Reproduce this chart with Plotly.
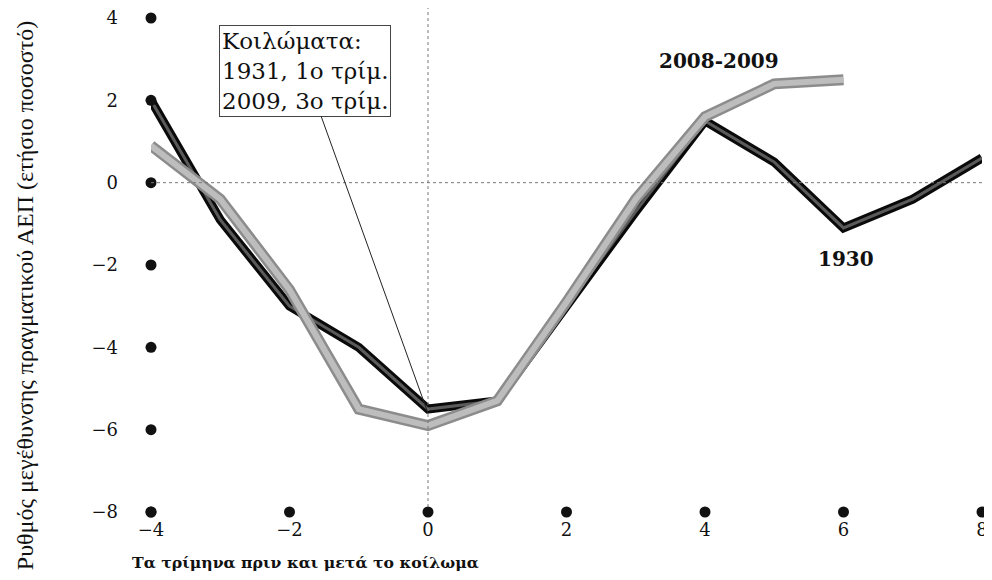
import plotly.graph_objects as go

quarters_1930 = [-4, -3, -2, -1, 0, 1, 2, 3, 4, 5, 6, 7, 8]
gdp_1930 = [2.0, -0.9, -3.0, -4.0, -5.5, -5.3, -3.0, -0.7, 1.5, 0.5, -1.1, -0.4, 0.6]

quarters_2008 = [-4, -3, -2, -1, 0, 1, 2, 3, 4, 5, 6]
gdp_2008 = [0.9, -0.4, -2.6, -5.5, -5.9, -5.3, -2.9, -0.4, 1.6, 2.4, 2.5]

x_ticks = [-4, -2, 0, 2, 4, 6, 8]
y_ticks = [-8, -6, -4, -2, 0, 2, 4]

SERIF = "Liberation Serif"
WIDE = "DejaVu Serif"

fig = go.Figure()

# reference lines
fig.add_shape(type="line", xref="x", yref="paper", x0=0, x1=0, y0=0.01, y1=1.03,
              line=dict(color="#777", width=1, dash="dot"))
fig.add_shape(type="line", xref="paper", yref="y", x0=0, x1=1.02, y0=0, y1=0,
              line=dict(color="#777", width=1, dash="dot"))

# 1930 line: black outline with dark interior
fig.add_trace(go.Scatter(x=quarters_1930, y=gdp_1930, mode="lines",
                         line=dict(color="#0a0a0a", width=9), hoverinfo="skip",
                         showlegend=False))
fig.add_trace(go.Scatter(x=quarters_1930, y=gdp_1930, mode="lines",
                         line=dict(color="#5a5a5a", width=3), showlegend=False,
                         name="1930"))
# 2008-2009 line: gray band
fig.add_trace(go.Scatter(x=quarters_2008, y=gdp_2008, mode="lines",
                         line=dict(color="#8c8c8c", width=11), hoverinfo="skip",
                         showlegend=False))
fig.add_trace(go.Scatter(x=quarters_2008, y=gdp_2008, mode="lines",
                         line=dict(color="#bdbdbd", width=6), showlegend=False,
                         name="2008-2009"))

# tick dots
fig.add_trace(go.Scatter(x=[-4] * len(y_ticks), y=y_ticks, mode="markers",
                         marker=dict(color="#111", size=11), cliponaxis=False,
                         hoverinfo="skip", showlegend=False))
fig.add_trace(go.Scatter(x=x_ticks, y=[-8] * len(x_ticks), mode="markers",
                         marker=dict(color="#111", size=11), cliponaxis=False,
                         hoverinfo="skip", showlegend=False))

fig.add_annotation(x=4.2, y=2.95, text="<b>2008-2009</b>", showarrow=False,
                   font=dict(family=WIDE, size=20, color="#111"))
fig.add_annotation(x=6.04, y=-1.85, text="<b>1930</b>", showarrow=False,
                   font=dict(family=WIDE, size=20, color="#111"))

fig.add_annotation(x=0, y=-5.6, ax=-1.78, ay=2.72, axref="x", ayref="y",
                   text="Κοιλώματα:<br>1931, 1ο τρίμ.<br>2009, 3ο τρίμ.",
                   align="left", showarrow=True, arrowhead=0, arrowwidth=1,
                   arrowcolor="#222", bordercolor="#444", borderwidth=1,
                   borderpad=2, bgcolor="white",
                   font=dict(family=WIDE, size=23, color="#111"))

fig.add_annotation(xref="paper", yref="paper", x=-0.1516, y=0.439,
                   xanchor="center", yanchor="middle",
                   text="Ρυθμός μεγέθυνσης πραγματικού ΑΕΠ (ετήσιο ποσοστό)",
                   textangle=-90, showarrow=False,
                   font=dict(family=SERIF, size=24, color="#111"))
fig.add_annotation(xref="paper", yref="paper", x=-0.0253, y=-0.103,
                   xanchor="left", yanchor="middle",
                   text="<b>Τα τρίμηνα πριν και μετά το κοίλωμα</b>",
                   showarrow=False,
                   font=dict(family=WIDE, size=15.7, color="#111"))

fig.update_xaxes(range=[-4, 8], tickvals=x_ticks, showgrid=False, zeroline=False,
                 showline=False, ticks="", automargin=False, ticklabeloverflow="allow",
                 tickfont=dict(family=WIDE, size=18, color="#111"),
                 ticklabelstandoff=5)
fig.update_yaxes(range=[-8, 4], tickvals=y_ticks, showgrid=False, zeroline=False,
                 showline=False, ticks="", automargin=False, ticklabeloverflow="allow",
                 tickfont=dict(family=WIDE, size=18, color="#111"),
                 ticklabelstandoff=32)

# page body has an 8px margin, so the figure is sized to end at the window edge
fig.update_layout(width=984, height=564, margin=dict(l=143, r=10, t=10, b=60),
                  plot_bgcolor="white", paper_bgcolor="white", showlegend=False)

fig.write_html("out.html")
